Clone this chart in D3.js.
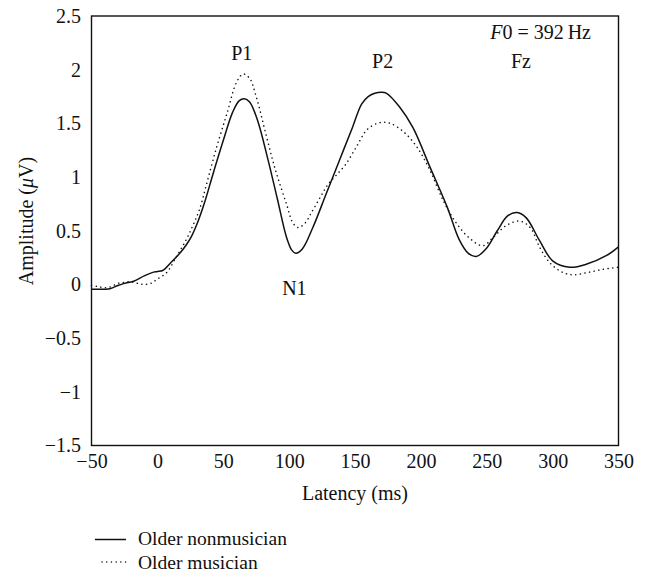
<!DOCTYPE html>
<html>
<head>
<meta charset="utf-8">
<script src="https://cdn.jsdelivr.net/npm/d3@7"></script>
<style>
  html, body { margin: 0; padding: 0; background: #fff; }
  svg { display: block; }
</style>
</head>
<body>
<svg id="chart" width="647" height="577"></svg>
<script>
// ---- Data ----
const nonmusicianLatency = [-50,-40,-36,-30,-25,-18,-10,-4,0,4,10,17,22,26,30,36,42,50,57,62,66,70,76,84,91,98,102,105,110,118,128,138,148,155,160,165,170,174,184,194,207,220,229,236,242,250,258,266,273,280,290,300,313,326,341,350];
const nonmusicianAmp = [-0.045,-0.045,-0.04,-0.01,0.01,0.03,0.08,0.11,0.12,0.13,0.2,0.29,0.37,0.45,0.56,0.77,1.02,1.34,1.6,1.71,1.73,1.70,1.53,1.16,0.8,0.44,0.32,0.29,0.33,0.53,0.84,1.15,1.46,1.68,1.75,1.78,1.79,1.78,1.65,1.46,1.09,0.72,0.42,0.29,0.26,0.34,0.50,0.64,0.67,0.62,0.41,0.22,0.16,0.19,0.27,0.35];

const musicianLatency = [-50,-45,-40,-35,-30,-25,-20,-15,-10,-5,0,7,15,22,27,32,37,45,53,60,65,70,75,83,90,98,103,107,112,117,124,130,136,143,151,159,167,172,177,187,197,207,217,227,237,247,255,265,275,283,290,298,308,316,326,338,350];
const musicianAmp = [-0.01,-0.02,-0.03,-0.02,0.01,0.02,0.025,0.01,0.0,0.01,0.05,0.11,0.27,0.42,0.55,0.7,0.92,1.28,1.6,1.88,1.96,1.92,1.75,1.37,1.05,0.75,0.57,0.53,0.57,0.67,0.82,0.94,1.02,1.12,1.28,1.44,1.5,1.51,1.5,1.42,1.28,1.06,0.78,0.57,0.43,0.36,0.44,0.55,0.59,0.53,0.35,0.2,0.11,0.09,0.11,0.14,0.16];

const xTicks = [-50,0,50,100,150,200,250,300,350];
const xTickLabels = ["\u221250","0","50","100","150","200","250","300","350"];
const yTicks = [-1.5,-1,-0.5,0,0.5,1,1.5,2,2.5];
const yTickLabels = ["\u22121.5","\u22121","\u22120.5","0","0.5","1","1.5","2","2.5"];

const seriesNames = ["Older nonmusician","Older musician"];
const peakLabels = [
  {text:"P1", t:64, v:2.09},
  {text:"N1", t:104, v:-0.1},
  {text:"P2", t:171, v:2.02},
  {text:"Fz", t:276, v:2.02}
];

// ---- Layout ----
const FONT = '"Liberation Serif", "Times New Roman", Times, serif';
const svg = d3.select("#chart");
const L = 91.5, R = 618.5, T = 16, B = 445.5;
const x = d3.scaleLinear().domain([-50,350]).range([L,R]);
const y = d3.scaleLinear().domain([-1.5,2.5]).range([B,T]);
const FS = 20;

function styleText(sel, fs){ return sel.attr("font-family",FONT).style("font-family",FONT).style("font-size",(fs||FS)+"px").attr("fill","#111"); }

// frame
svg.append("rect").attr("x",L).attr("y",T).attr("width",R-L).attr("height",B-T)
  .attr("fill","none").attr("stroke","#111").attr("stroke-width",1.4);

// axes
const xAxis = d3.axisBottom(x).tickValues(xTicks).tickSize(0).tickPadding(8)
  .tickFormat((d,i)=>xTickLabels[i]);
const gx = svg.append("g").attr("transform",`translate(0,${B})`).call(xAxis);
gx.attr("font-family",FONT);
gx.select(".domain").remove();
styleText(gx.selectAll("text"));

const yAxis = d3.axisLeft(y).tickValues(yTicks).tickSize(0).tickPadding(10.5)
  .tickFormat((d,i)=>yTickLabels[i]);
const gy = svg.append("g").attr("transform",`translate(${L},0)`).call(yAxis);
gy.attr("font-family",FONT);
gy.select(".domain").remove();
styleText(gy.selectAll("text"));

// axis titles
styleText(svg.append("text").attr("x",(L+R)/2).attr("y",500).attr("text-anchor","middle")).text("Latency (ms)");
const yl = styleText(svg.append("text").attr("transform","translate(33,221) rotate(-90)")
  .attr("text-anchor","middle"));
yl.append("tspan").text("Amplitude (");
yl.append("tspan").style("font-style","italic").text("\u03bc");
yl.append("tspan").text("V)");

// lines
const line = d3.line().x(d=>x(d[0])).y(d=>y(d[1])).curve(d3.curveCatmullRom.alpha(0.5));
const solid = nonmusicianLatency.map((t,i)=>[t,nonmusicianAmp[i]]);
const dotted = musicianLatency.map((t,i)=>[t,musicianAmp[i]]);

svg.append("path").datum(dotted).attr("d",line).attr("fill","none")
  .attr("stroke","#111").attr("stroke-width",1.5).attr("stroke-linecap","round")
  .attr("stroke-dasharray","0.1,4.6");
svg.append("path").datum(solid).attr("d",line).attr("fill","none")
  .attr("stroke","#111").attr("stroke-width",1.5);

// peak labels
peakLabels.forEach(p=>{
  styleText(svg.append("text").attr("x",x(p.t)).attr("y",y(p.v)).attr("text-anchor","middle")).text(p.text);
});

// F0 label
const f0 = styleText(svg.append("text").attr("x",591).attr("y",39).attr("text-anchor","end"));
f0.append("tspan").style("font-style","italic").text("F");
f0.append("tspan").text("0 = 392\u2009Hz");

// legend
const lg = svg.append("g");
lg.append("line").attr("x1",95).attr("x2",126).attr("y1",539.5).attr("y2",539.5)
  .attr("stroke","#111").attr("stroke-width",1.5);
lg.append("line").attr("x1",102).attr("x2",127).attr("y1",562).attr("y2",562)
  .attr("stroke","#111").attr("stroke-width",1.4).attr("stroke-linecap","round")
  .attr("stroke-dasharray","0.1,4.6");
styleText(lg.append("text").attr("x",138).attr("y",545), 19.5).text(seriesNames[0]);
styleText(lg.append("text").attr("x",138).attr("y",568.5), 19.5).text(seriesNames[1]);
</script>
</body>
</html>
